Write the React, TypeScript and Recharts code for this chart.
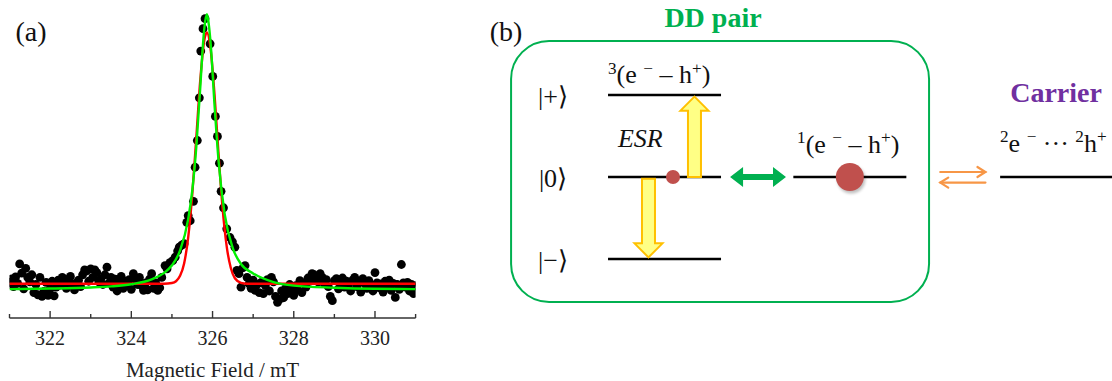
import React from 'react'
import {
  ComposedChart, Scatter, Line, XAxis, YAxis,
  ReferenceLine, ReferenceDot, ReferenceArea,
} from 'recharts'

const SERIF = '"Liberation Serif", "Times New Roman", serif'

// (a) ESR spectrum: [field mT, normalised intensity]
const ESR_POINTS: [number, number][] = [
  [321.00, 0.012], [321.05, 0.025], [321.10, -0.004], [321.15, 0.032], [321.20, 0.008],
  [321.25, 0.080], [321.30, 0.046], [321.35, -0.012], [321.40, 0.064], [321.45, 0.030],
  [321.50, 0.014], [321.55, 0.040], [321.60, -0.026], [321.65, 0.004], [321.70, -0.034],
  [321.75, 0.030], [321.80, -0.040], [321.85, -0.022], [321.90, 0.012], [321.95, -0.036],
  [322.00, -0.012], [322.05, 0.016], [322.10, -0.038], [322.15, -0.006], [322.20, 0.020],
  [322.25, 0.002], [322.30, 0.030], [322.35, 0.010], [322.40, -0.010], [322.45, 0.024],
  [322.50, 0.034], [322.55, 0.006], [322.60, -0.016], [322.65, 0.010], [322.70, 0.020],
  [322.75, -0.004], [322.80, 0.040], [322.85, 0.058], [322.90, 0.054], [322.95, 0.016],
  [323.00, 0.062], [323.05, 0.030], [323.10, 0.058], [323.15, 0.048], [323.20, 0.014],
  [323.25, 0.026], [323.30, 0.004], [323.35, 0.040], [323.40, 0.068], [323.45, 0.010],
  [323.50, 0.030], [323.55, -0.006], [323.60, 0.024], [323.65, -0.020], [323.70, 0.010],
  [323.75, 0.034], [323.80, -0.010], [323.85, 0.016], [323.90, 0.000], [323.95, 0.022],
  [324.00, -0.014], [324.05, 0.044], [324.10, 0.024], [324.15, 0.004], [324.20, 0.030],
  [324.25, 0.000], [324.30, -0.018], [324.35, 0.010], [324.40, -0.016], [324.45, 0.024],
  [324.50, 0.044], [324.55, -0.010], [324.60, 0.010], [324.65, -0.018], [324.70, -0.008],
  [324.75, 0.030], [324.83, 0.074], [324.88, 0.062], [324.95, 0.085], [325.02, 0.092],
  [325.08, 0.105], [325.14, 0.128], [325.18, 0.142], [325.24, 0.150], [325.30, 0.155],
  [325.365, 0.234], [325.40, 0.259], [325.45, 0.240], [325.53, 0.312], [325.57, 0.438],
  [325.625, 0.537], [325.675, 0.695], [325.71, 0.868], [325.765, 0.951], [325.815, 0.988],
  [325.94, 0.895], [326.005, 0.774], [326.07, 0.626], [326.12, 0.552], [326.17, 0.453],
  [326.21, 0.349], [326.27, 0.288], [326.35, 0.210], [326.43, 0.178], [326.49, 0.162],
  [326.55, 0.142], [326.60, 0.056], [326.65, 0.044], [326.70, -0.006], [326.75, 0.066],
  [326.80, 0.074], [326.85, 0.030], [326.90, 0.006], [326.95, -0.010], [327.00, 0.020],
  [327.05, -0.018], [327.10, 0.004], [327.15, -0.026], [327.20, 0.012], [327.25, -0.030],
  [327.30, 0.000], [327.35, 0.022], [327.40, -0.020], [327.45, 0.030], [327.50, 0.014],
  [327.55, -0.040], [327.60, -0.062], [327.65, -0.050], [327.70, -0.020], [327.75, -0.045],
  [327.80, -0.010], [327.85, -0.030], [327.90, 0.004], [327.95, -0.020], [328.00, -0.036],
  [328.05, 0.000], [328.10, -0.016], [328.15, 0.018], [328.20, -0.026], [328.25, 0.010],
  [328.30, -0.006], [328.35, 0.028], [328.40, 0.016], [328.45, 0.044], [328.50, 0.040],
  [328.55, 0.030], [328.60, 0.014], [328.65, 0.044], [328.70, 0.030], [328.75, 0.008],
  [328.80, 0.022], [328.85, -0.004], [328.90, -0.040], [328.95, -0.056], [329.00, 0.018],
  [329.05, 0.026], [329.10, -0.012], [329.15, 0.010], [329.20, 0.028], [329.25, -0.006],
  [329.30, 0.016], [329.35, 0.004], [329.40, -0.020], [329.45, 0.020], [329.50, 0.030],
  [329.55, -0.004], [329.60, 0.012], [329.65, -0.024], [329.70, 0.026], [329.75, 0.006],
  [329.80, -0.010], [329.85, 0.018], [329.90, 0.000], [329.95, -0.020], [330.00, 0.048],
  [330.05, 0.010], [330.10, -0.008], [330.15, 0.006], [330.20, -0.024], [330.25, 0.016],
  [330.30, -0.004], [330.35, 0.020], [330.40, -0.018], [330.45, 0.008], [330.50, -0.044],
  [330.55, 0.004], [330.60, -0.014], [330.65, 0.078], [330.70, 0.010], [330.75, -0.006],
  [330.80, 0.012], [330.85, -0.020], [330.90, 0.004], [330.95, -0.030], [331.00, 0.000],
]

// red fit (Gaussian-like)
const RED_FIT: [number, number][] = [
  [321.0, 0.007], [322.0, 0.007], [323.0, 0.007], [324.0, 0.007], [324.8, 0.007],
  [325.0, 0.0095], [325.1, 0.016], [325.2, 0.036], [325.3, 0.082], [325.4, 0.178],
  [325.5, 0.337], [325.6, 0.548], [325.7, 0.765], [325.8, 0.911], [325.86, 0.937],
  [325.95, 0.878], [326.05, 0.704], [326.15, 0.481], [326.25, 0.282], [326.35, 0.143],
  [326.45, 0.065], [326.55, 0.027], [326.7, 0.010], [326.85, 0.007], [327.5, 0.007],
  [328.0, 0.007], [329.0, 0.007], [330.0, 0.007], [331.0, 0.007],
]

// green fit (Lorentzian-like)
const GREEN_FIT: [number, number][] = [
  [321.0, -0.013], [322.0, -0.011], [323.0, -0.007], [323.5, -0.003], [324.0, 0.005],
  [324.5, 0.023], [324.8, 0.046], [325.0, 0.075], [325.2, 0.130], [325.4, 0.246],
  [325.5, 0.351], [325.6, 0.513], [325.7, 0.739], [325.75, 0.863], [325.8, 0.956],
  [325.86, 1.004], [325.9, 0.975], [325.95, 0.902], [326.05, 0.666], [326.15, 0.458],
  [326.3, 0.263], [326.5, 0.138], [326.7, 0.080], [327.0, 0.045], [327.5, 0.013],
  [328.0, 0.000], [329.0, -0.008], [330.0, -0.012], [331.0, -0.013],
]

const FIELD_TICKS = [321, 322, 323, 324, 325, 326, 327, 328, 329, 330, 331]
const LABELED_TICKS = [322, 324, 326, 328, 330]

// (b) level diagram: energies of the spin sub-levels
const STATE_LABELS = ['|+⟩', '|0⟩', '|−⟩']
const STATE_ENERGY = [1, 0, -1]
// x spans in units of one level width
const TRIPLET_SPAN: [number, number] = [0, 1]
const SINGLET_SPAN: [number, number] = [1.64, 2.64]
const CARRIER_SPAN: [number, number] = [3.47, 4.46]
// populations drawn as red discs (relative size)
const POPULATIONS = [
  { x: 0.575, y: 0, weight: 1 },
  { x: 2.14, y: 0, weight: 2 },
]

type Seg = { t: string; sup?: boolean }
const TRIPLET_TERM: Seg[] = [
  { t: '3', sup: true }, { t: '(e ' }, { t: '−', sup: true }, { t: ' – h' }, { t: '+', sup: true }, { t: ')' },
]
const SINGLET_TERM: Seg[] = [
  { t: '1', sup: true }, { t: '(e ' }, { t: '−', sup: true }, { t: ' – h' }, { t: '+', sup: true }, { t: ')' },
]
const CARRIER_TERM: Seg[] = [
  { t: '2', sup: true }, { t: 'e ' }, { t: '−', sup: true }, { t: ' ··· ' }, { t: '2', sup: true }, { t: 'h' }, { t: '+', sup: true },
]

const GREEN = '#00b050'
const X_DOMAIN: [number, number] = [321, 331]
const Y_DOMAIN: [number, number] = [-0.12, 1.02]
const PLOT_MARGIN = { top: 10, right: 14.4, left: 9.5 }

function renderRich(segs: Seg[], size: number) {
  const lift = size * 0.36
  let raised = false
  return segs.map((s, i) => {
    let dy = 0
    if (s.sup && !raised) { dy = -lift; raised = true }
    else if (!s.sup && raised) { dy = lift; raised = false }
    return (
      <tspan key={i} dy={dy} fontSize={s.sup ? size * 0.66 : size}>{s.t}</tspan>
    )
  })
}

function FieldTick(props: any) {
  const { x, y, payload } = props
  const major = LABELED_TICKS.includes(payload.value)
  return (
    <g>
      <line x1={x} x2={x} y1={y} y2={y - (major ? 7 : 4)} stroke="#333" strokeWidth={1.4} />
      {major && (
        <text x={x} y={y + 27} textAnchor="middle" fontSize={20} fontFamily={SERIF} fill="#222">
          {payload.value}
        </text>
      )}
    </g>
  )
}

function blockArrow(p: any, shaft: number, head: number, headLen: number, both = false) {
  const { x1, y1, x2, y2 } = p
  const len = Math.hypot(x2 - x1, y2 - y1)
  const ux = (x2 - x1) / len, uy = (y2 - y1) / len
  const nx = -uy, ny = ux
  const pt = (bx: number, by: number, off: number) => `${bx + nx * off},${by + ny * off}`
  const hx = x2 - ux * headLen, hy = y2 - uy * headLen
  const tx = x1 + ux * headLen, ty = y1 + uy * headLen
  const pts = both
    ? [pt(x1, y1, 0), pt(tx, ty, head), pt(tx, ty, shaft), pt(hx, hy, shaft), pt(hx, hy, head), pt(x2, y2, 0),
       pt(hx, hy, -head), pt(hx, hy, -shaft), pt(tx, ty, -shaft), pt(tx, ty, -head)]
    : [pt(x1, y1, shaft), pt(hx, hy, shaft), pt(hx, hy, head), pt(x2, y2, 0),
       pt(hx, hy, -head), pt(hx, hy, -shaft), pt(x1, y1, -shaft)]
  return pts.join(' ')
}

const yellowArrow = (p: any) => (
  <polygon points={blockArrow(p, 6.5, 14, 14)} fill="#ffff85" stroke="#ffc000" strokeWidth={2} strokeLinejoin="miter" />
)
const greenArrow = (p: any) => (
  <polygon points={blockArrow(p, 3, 10, 13, true)} fill={GREEN} stroke="none" />
)
const orangeArrow = (p: any) => {
  const { x1, y1, x2, y2 } = p
  const dir = x2 > x1 ? 1 : -1
  return (
    <g stroke="#f79646" strokeWidth={2.2} fill="none" strokeLinecap="round">
      <line x1={x1} y1={y1} x2={x2} y2={y2} />
      <polyline points={`${x2 - dir * 8},${y2 - 5} ${x2},${y2} ${x2 - dir * 8},${y2 + 5}`} />
    </g>
  )
}

const roundedBox = (p: any) => (
  <rect x={p.x} y={p.y} width={p.width} height={p.height} rx={38} ry={38} fill="none" stroke={GREEN} strokeWidth={2} />
)

const populationDot = (p: any) => {
  const r = 7 * p.payload.weight
  return (
    <g>
      {p.payload.weight > 1 && (
        <circle cx={p.cx + 1.5} cy={p.cy + 2.5} r={r} fill="#000" opacity={0.25} filter="url(#softShadow)" />
      )}
      <circle cx={p.cx} cy={p.cy} r={r} fill="#c0504d" />
    </g>
  )
}

const textAt = (content: React.ReactNode, opts: { size: number; anchor?: string; weight?: string; italic?: boolean; color?: string }) =>
  (p: any) => (
    <text
      x={p.cx}
      y={p.cy}
      textAnchor={opts.anchor ?? 'start'}
      fontSize={opts.size}
      fontFamily={SERIF}
      fontWeight={opts.weight ?? 'normal'}
      fontStyle={opts.italic ? 'italic' : 'normal'}
      fill={opts.color ?? '#111'}
    >
      {content}
    </text>
  )

function SpectrumPanel() {
  const pts = ESR_POINTS.map(([x, y]) => ({ x, y }))
  const red = RED_FIT.map(([x, y]) => ({ x, y }))
  const green = GREEN_FIT.map(([x, y]) => ({ x, y }))
  return (
    <div style={{ position: 'relative', width: 430, height: 381 }}>
      {/* data points with the field axis */}
      <div style={{ position: 'absolute', left: 0, top: 0 }}>
        <ComposedChart width={430} height={381} margin={{ ...PLOT_MARGIN, bottom: 0 }}>
          <XAxis
            type="number"
            dataKey="x"
            domain={X_DOMAIN}
            ticks={FIELD_TICKS}
            interval={0}
            allowDataOverflow
            height={63}
            tickSize={0}
            tickMargin={0}
            tickLine={false}
            axisLine={{ stroke: '#333', strokeWidth: 1.5 }}
            tick={(p: any) => <FieldTick {...p} />}
            label={{ value: 'Magnetic Field / mT', position: 'insideBottom', offset: 4, fontSize: 21, fontFamily: SERIF, fill: '#222' }}
          />
          <YAxis type="number" dataKey="y" domain={Y_DOMAIN} hide allowDataOverflow />
          <Scatter data={pts} dataKey="y" isAnimationActive={false}
            shape={(p: any) => <circle cx={p.cx} cy={p.cy} r={4.4} fill="#000" />} />
          <ReferenceDot x={321.53} y={0.905} r={0} shape={textAt('(a)', { size: 28, anchor: 'middle' })} />
        </ComposedChart>
      </div>
      {/* fit curves drawn over the points */}
      <div style={{ position: 'absolute', left: 0, top: 0 }}>
        <ComposedChart width={430} height={381} margin={{ ...PLOT_MARGIN, bottom: 63 }}>
          <XAxis type="number" dataKey="x" domain={X_DOMAIN} hide allowDataOverflow />
          <YAxis type="number" dataKey="y" domain={Y_DOMAIN} hide allowDataOverflow />
          <Line data={red} dataKey="y" type="monotone" stroke="#ff0000" strokeWidth={2.4} dot={false} isAnimationActive={false} />
          <Line data={green} dataKey="y" type="monotone" stroke="#00f000" strokeWidth={2.4} dot={false} isAnimationActive={false} />
        </ComposedChart>
      </div>
    </div>
  )
}

function LevelPanel() {
  return (
    <ComposedChart width={632} height={381} margin={{ top: 0, right: 0, bottom: 0, left: 0 }}>
      <defs>
        <filter id="softShadow" x="-50%" y="-50%" width="200%" height="200%">
          <feGaussianBlur stdDeviation="1.5" />
        </filter>
      </defs>
      <XAxis type="number" dataKey="x" domain={[-1.133, 4.46]} hide allowDataOverflow />
      <YAxis type="number" dataKey="y" domain={[-2.488, 2.159]} hide allowDataOverflow />

      <ReferenceArea x1={-0.858} x2={2.841} y1={-1.524} y2={1.659} ifOverflow="visible" shape={roundedBox} />

      {STATE_ENERGY.map((e) => (
        <ReferenceLine key={`t${e}`} ifOverflow="visible" stroke="#000" strokeWidth={2.5}
          segment={[{ x: TRIPLET_SPAN[0], y: e }, { x: TRIPLET_SPAN[1], y: e }]} />
      ))}
      <ReferenceLine ifOverflow="visible" stroke="#000" strokeWidth={2.5}
        segment={[{ x: SINGLET_SPAN[0], y: 0 }, { x: SINGLET_SPAN[1], y: 0 }]} />
      <ReferenceLine ifOverflow="visible" stroke="#000" strokeWidth={2.5}
        segment={[{ x: CARRIER_SPAN[0], y: 0 }, { x: CARRIER_SPAN[1], y: 0 }]} />

      <ReferenceLine ifOverflow="visible" shape={yellowArrow} segment={[{ x: 0.765, y: 0 }, { x: 0.765, y: 0.98 }]} />
      <ReferenceLine ifOverflow="visible" shape={yellowArrow} segment={[{ x: 0.358, y: -0.02 }, { x: 0.358, y: -0.98 }]} />
      <ReferenceLine ifOverflow="visible" shape={greenArrow} segment={[{ x: 1.08, y: 0 }, { x: 1.575, y: 0 }]} />
      <ReferenceLine ifOverflow="visible" shape={orangeArrow} segment={[{ x: 2.94, y: 0.061 }, { x: 3.34, y: 0.061 }]} />
      <ReferenceLine ifOverflow="visible" shape={orangeArrow} segment={[{ x: 3.34, y: -0.068 }, { x: 2.94, y: -0.068 }]} />

      <Scatter data={POPULATIONS} dataKey="y" isAnimationActive={false} shape={populationDot} />

      <ReferenceDot x={-0.903} y={1.665} r={0} shape={textAt('(b)', { size: 28, anchor: 'middle' })} />
      <ReferenceDot x={0.929} y={1.833} r={0} shape={textAt('DD pair', { size: 28, anchor: 'middle', weight: 'bold', color: GREEN })} />
      {STATE_LABELS.map((s, i) => (
        <ReferenceDot key={s} x={-0.487} y={STATE_ENERGY[i] - 0.122} r={0}
          shape={textAt(s, { size: 26, anchor: 'middle' })} />
      ))}
      <ReferenceDot x={0} y={1.146} r={0} shape={textAt(renderRich(TRIPLET_TERM, 26), { size: 26 })} />
      <ReferenceDot x={0.088} y={0.37} r={0} shape={textAt('ESR', { size: 26, italic: true })} />
      <ReferenceDot x={1.673} y={0.296} r={0} shape={textAt(renderRich(SINGLET_TERM, 26), { size: 26 })} />
      <ReferenceDot x={3.965} y={0.911} r={0} shape={textAt('Carrier', { size: 28, anchor: 'middle', weight: 'bold', color: '#7030a0' })} />
      <ReferenceDot x={3.469} y={0.309} r={0} shape={textAt(renderRich(CARRIER_TERM, 26), { size: 26 })} />
    </ComposedChart>
  )
}

export default function App() {
  return (
    <div style={{ position: 'absolute', left: 0, top: 0, width: 1112, height: 381, background: '#fff', overflow: 'hidden' }}>
      <div style={{ position: 'absolute', left: 0, top: 0 }}>
        <SpectrumPanel />
      </div>
      <div style={{ position: 'absolute', left: 480, top: 0 }}>
        <LevelPanel />
      </div>
    </div>
  )
}
